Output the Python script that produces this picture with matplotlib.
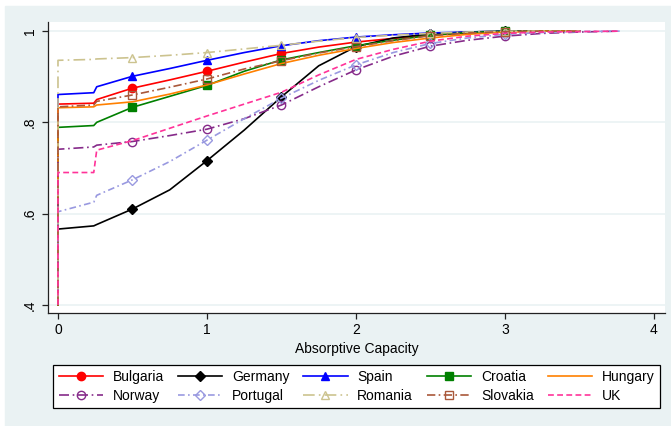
import numpy as np
import matplotlib; matplotlib.use("Agg")
import matplotlib.pyplot as plt
from matplotlib.lines import Line2D
from matplotlib.patches import Rectangle

plt.rcParams["font.family"]=["Liberation Sans","DejaVu Sans"]
BG="#eaf2f3"; nan=np.nan

# absorptive capacity grid (first point = bottom of the vertical drop at 0)
X=[0,0,0.24,0.26,0.5,0.75,1,1.25,1.5,1.75,2,2.25,2.5,2.75,3,3.25,3.5,3.77]
bulgaria=[.40,.840,.842,.850,.875,.893,.912,.932,.951,.965,.976,.984,.991,.996,.999,1,1,nan]
germany =[.40,.566,.573,.576,.610,.652,.716,.783,.856,.924,.966,.985,.994,.998,1,1,1,nan]
spain   =[.40,.861,.865,.878,.901,.918,.936,.953,.968,.979,.987,.992,.996,.998,1,1,1,nan]
croatia =[.40,.789,.793,.800,.833,.857,.881,.912,.937,.953,.968,.980,.991,.997,1,1,1,nan]
hungary =[.40,.832,.834,.838,.845,.862,.882,.906,.929,.947,.962,.975,.985,.993,.998,1,1,nan]
norway  =[.40,.741,.746,.750,.758,.771,.785,.808,.838,.878,.915,.945,.967,.980,.989,.995,.998,1]
portugal=[.40,.604,.625,.640,.674,.714,.761,.808,.853,.892,.926,.953,.973,.985,.993,.997,.999,1]
romania =[.40,.936,.938,.939,.942,.947,.953,.961,.969,.978,.986,.991,.995,.998,1,1,1,nan]
slovakia=[.40,.834,.838,.846,.860,.877,.895,.917,.935,.952,.966,.979,.990,.996,.999,1,1,nan]
uk      =[.40,.690,.690,.739,.760,.787,.814,.840,.866,.904,.938,.960,.978,.989,.995,.998,.999,1]

names=["Bulgaria","Germany","Spain","Croatia","Hungary","Norway","Portugal","Romania","Slovakia","UK"]
vals=[bulgaria,germany,spain,croatia,hungary,norway,portugal,romania,slovakia,uk]
cols=["#ff0000","#000000","#0000ff","#008000","#ff8000","#862b8a","#9999e0","#ccc38f","#a9583a","#ff3399"]
lss=["-","-","-","-","-",(0,(6,2.2,1,2.2)),(0,(4,2,1,2)),(0,(7,2.5,1,2.5)),(0,(5,2,1,2)),(0,(3.5,2))]
mks=["o","D","^","s",None,"o","D","^","s",None]
fill=[1,1,1,1,0,0,0,0,0,0]
ME=[4,6,8,10,12,14]   # markers at 0.5,1,...,3

fig=plt.figure(figsize=(6.71,4.26),dpi=100,facecolor="white")
fig.patches.append(Rectangle((5/671,0),1,420/426,transform=fig.transFigure,color=BG,zorder=-10))
ax=fig.add_axes([48/671,113/426,617/671,291/426])
ax.set_facecolor("white")
hs=[]
for n,v,c,ls,m,f in zip(names,vals,cols,lss,mks,fill):
    kw=dict(color=c,ls=ls,lw=1.2,marker=m,ms=6 if m!="D" else 5.5,mfc=c if f else "none",mec=c,mew=1)
    ax.plot(X,v,markevery=ME,**kw)
    hs.append(Line2D([],[],**kw))
ax.set_xlim(-0.067,4.074); ax.set_ylim(0.382,1.02)
ax.set_xticks([0,1,2,3,4]); ax.set_yticks([.4,.6,.8,1]); ax.set_yticklabels([".4",".6",".8","1"])
ax.grid(axis="y",color=BG,lw=1.2); ax.set_axisbelow(True)
for s in ("top","right"): ax.spines[s].set_visible(False)
for s in ("left","bottom"): ax.spines[s].set_color("#222222"); ax.spines[s].set_linewidth(0.9)
ax.tick_params(axis="x",length=4,width=0.9,pad=3.5,labelsize=10,color="#222222")
ax.tick_params(axis="y",length=4,width=0.9,pad=4,labelsize=10,color="#222222")
for t in ax.get_yticklabels(): t.set_rotation(90); t.set_va("center")
ax.set_xlabel("Absorptive Capacity",fontsize=10,labelpad=3)
order=[0,5,1,6,2,7,3,8,4,9]
lg=fig.legend([hs[i] for i in order],[names[i] for i in order],ncol=5,loc="center",
    bbox_to_anchor=(53/671,16/426,607/671,47/426),mode="expand",fontsize=10,
    handlelength=3.2,handletextpad=0.7,columnspacing=0.9,labelspacing=0.35,
    fancybox=False,edgecolor="black",framealpha=1,borderpad=0.4,borderaxespad=0)
lg.get_frame().set_linewidth(0.9)
fig.savefig("out.png",dpi=100,facecolor=fig.get_facecolor())
